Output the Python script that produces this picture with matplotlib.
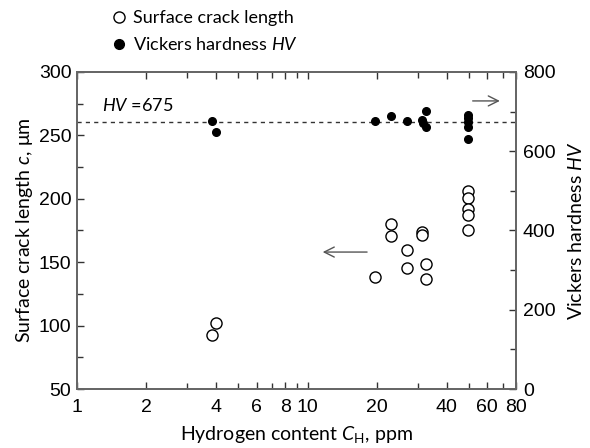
import matplotlib
matplotlib.use("Agg")
import matplotlib.pyplot as plt
from matplotlib.ticker import FixedLocator, NullFormatter, MultipleLocator
from matplotlib.lines import Line2D

plt.rcParams['mathtext.fontset'] = 'custom'
plt.rcParams['mathtext.rm'] = 'Lato'
plt.rcParams['mathtext.it'] = 'Lato:italic'

# Surface crack length data (ppm, um)
crack_h = [3.85, 4.0, 19.5, 22.9, 22.9, 26.9, 26.9, 31.4, 31.4, 32.5, 32.5,
           49.3, 49.3, 49.3, 49.3, 49.3]
crack_c = [92.6, 101.8, 138.6, 180, 170.7, 159.6, 145.4, 174, 171.4, 148.3, 136.8,
           206, 201, 192, 187, 175]

# Vickers hardness data (ppm, HV)
hv_h = [3.86, 4.0, 19.5, 22.9, 26.9, 32.5, 31.2, 31.7, 32.7,
        49.3, 49.3, 49.3, 49.3, 49.3]
hv_v = [676, 649, 676, 690, 677, 702, 679, 671, 660,
        691, 685, 675, 662, 630]

hv_ref = 675

x_major = [1, 2, 4, 6, 8, 10, 20, 40, 60, 80]
x_minor = [3, 5, 7, 9, 30, 50, 70]

fig = plt.figure(figsize=(5.9, 4.48), dpi=100)
ax = fig.add_axes([77/590, 1-389/448, (516-77)/590, (389-72)/448])
ax2 = ax.twinx()

spine_col = '#666666'
lab_font = 'Lato'
tick_font = 'Liberation Sans'

ax.plot(crack_h, crack_c, 'o', mfc='white', mec='black', mew=1.0, ms=8, zorder=3,
        clip_on=False)
ax2.plot(hv_h, hv_v, 'o', mfc='black', mec='black', ms=5.5, zorder=3)
ax2.axhline(hv_ref, color='#333333', lw=1.0, ls=(0, (3, 3)))

ax.set_xscale('log')
ax.set_xlim(1, 80)
ax.set_ylim(50, 300)
ax2.set_ylim(0, 800)

ax.xaxis.set_major_locator(FixedLocator(x_major))
ax.xaxis.set_minor_locator(FixedLocator(x_minor))
ax.xaxis.set_minor_formatter(NullFormatter())
ax.set_xticklabels([str(v) for v in x_major])
ax.yaxis.set_major_locator(MultipleLocator(50))
ax.yaxis.set_minor_locator(MultipleLocator(25))
ax2.yaxis.set_major_locator(MultipleLocator(200))
ax2.yaxis.set_minor_locator(MultipleLocator(100))

for a in (ax, ax2):
    for s in a.spines.values():
        s.set_color(spine_col)
        s.set_linewidth(1.3)
ax.tick_params(axis='x', which='both', direction='in', top=True, color='#333333', width=1.0)
ax.tick_params(axis='y', which='both', direction='in', color='#333333', width=1.0, right=False)
ax2.tick_params(axis='y', which='both', direction='in', color='#333333', width=1.0)
for a in (ax, ax2):
    a.tick_params(which='major', length=5, labelsize=14)
    a.tick_params(which='minor', length=4)
ax.tick_params(axis='x', which='major', pad=7)
ax.tick_params(axis='y', which='major', pad=4)
ax2.tick_params(axis='y', which='major', pad=5)
for lbl in ax.get_xticklabels() + ax.get_yticklabels() + ax2.get_yticklabels():
    lbl.set_fontfamily(tick_font)

ax.set_xlabel(r'Hydrogen content $\mathit{C}_{\mathrm{H}}$, ppm', fontfamily=lab_font,
              fontsize=14, labelpad=6)
ax.set_ylabel(r'Surface crack length $\mathit{c}$, μm', fontfamily=lab_font,
              fontsize=14, labelpad=3)
ax2.set_ylabel(r'Vickers hardness $\mathit{HV}$', fontfamily=lab_font,
               fontsize=14, labelpad=8)

ax2.text(0.058, 0.868, r'$\mathit{HV}$ =675', transform=ax.transAxes,
         fontfamily=lab_font, fontsize=13, va='bottom', ha='left')

# arrows
ax.annotate('', xy=(11.3, 158), xytext=(18.6, 158),
            arrowprops=dict(arrowstyle='->', color='#555555', lw=1.0,
                            mutation_scale=18))
ax2.annotate('', xy=(70, 727), xytext=(50.5, 727),
             arrowprops=dict(arrowstyle='->', color='#555555', lw=1.0,
                             mutation_scale=18))

handles = [Line2D([], [], ls='none', marker='o', mfc='white', mec='black', ms=8, mew=1.0),
           Line2D([], [], ls='none', marker='o', mfc='black', mec='black', ms=7)]
labels = ['Surface crack length', r'Vickers hardness $\mathit{HV}$']
leg = fig.legend(handles, labels, loc='upper left', bbox_to_anchor=(101/590, 1-3/448),
                 frameon=False, handletextpad=0.15, labelspacing=0.55,
                 prop={'family': lab_font, 'size': 13}, handlelength=1.2,
                 borderaxespad=0)

fig.savefig('out.png', dpi=100)
